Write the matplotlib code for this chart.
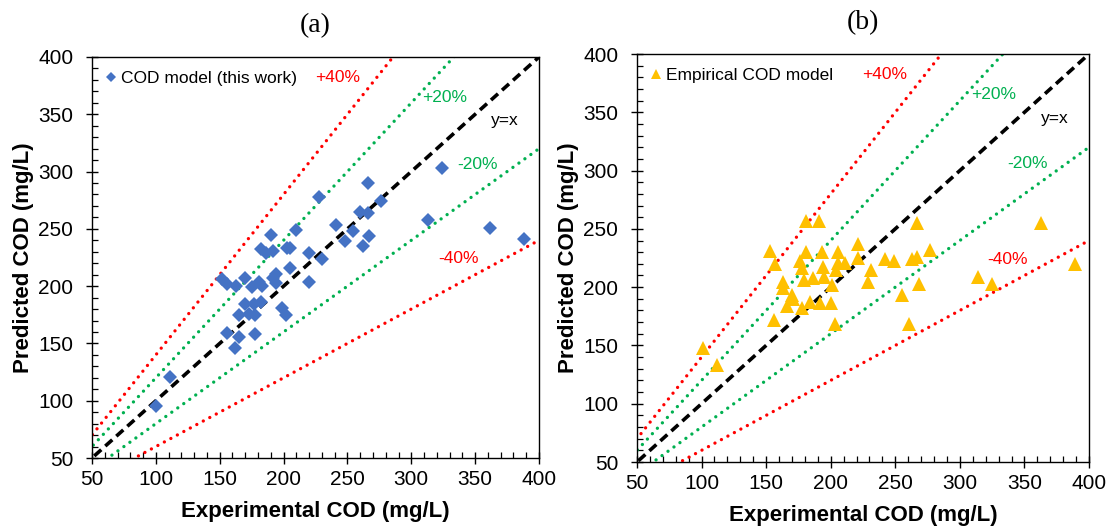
import matplotlib
matplotlib.use("Agg")
import numpy as np
import matplotlib.pyplot as plt
from matplotlib.ticker import MultipleLocator

plt.rcParams['font.family'] = ['Liberation Sans', 'DejaVu Sans']

# Experimental vs predicted COD (mg/L), model from this work
exp_a = [100, 111, 152, 156, 156, 162, 163, 165, 165, 170, 170, 173, 175, 177, 178,
         178, 181, 182, 183, 182, 186, 190, 192, 192, 194, 194, 199, 202, 203, 205,
         205, 210, 220, 220, 228, 230, 241, 248, 254, 260, 262, 266, 266, 267, 276,
         313, 324, 362, 388]
pred_a = [95, 121, 206, 202, 159, 146, 200, 175, 156, 207, 184, 176, 199, 184, 175,
          158, 204, 186, 200, 232, 229, 245, 231, 207, 203, 211, 181, 175, 233, 233,
          216, 249, 229, 204, 278, 224, 253, 239, 248, 265, 235, 264, 290, 244, 274,
          258, 303, 251, 241]

# Experimental vs predicted COD (mg/L), empirical model
exp_b = [101, 112, 153, 156, 157, 163, 163, 166, 170, 171, 176, 178, 178, 179, 181,
         181, 184, 186, 191, 192, 193, 194, 195, 200, 201, 203, 204, 206, 206, 211,
         221, 221, 229, 231, 242, 249, 255, 261, 263, 267, 267, 268, 277, 314, 325,
         363, 389]
pred_b = [148, 133, 231, 172, 220, 204, 199, 184, 193, 190, 222, 182, 216, 206, 257,
          230, 187, 208, 257, 186, 230, 217, 209, 186, 202, 168, 215, 230, 221, 221,
          237, 225, 204, 215, 224, 222, 193, 168, 224, 255, 226, 203, 232, 209, 203,
          255, 220]

# Error bands: ratio of predicted to experimental, label, colour, label position
band_ratios = [1.4, 1.2, 0.8, 0.6]
band_labels = ['+40%', '+20%', '-20%', '-40%']
band_colors = ['#FF0000', '#00B050', '#00B050', '#FF0000']
band_label_xy = [(242, 382), (326, 365), (352, 306), (337, 224)]
axis_min, axis_max = 50, 400

W, H = 1111, 530
fig = plt.figure(figsize=(W / 100, H / 100), dpi=100)


def px_axes(left, right, top, bottom):
    return fig.add_axes([left / W, 1 - bottom / H, (right - left) / W, (bottom - top) / H])


ax_a = px_axes(92, 539, 57, 458)
ax_b = px_axes(637, 1089, 54, 462)

panels = [
    (ax_a, exp_a, pred_a, 'D', '#4472C4', 7.5, 'COD model (this work)', '(a)'),
    (ax_b, exp_b, pred_b, '^', '#FFC000', 9.5, 'Empirical COD model', '(b)'),
]

xline = np.array([0, 800])
for ax, xs, ys, mk, col, ms, lab, title in panels:
    for r, c in zip(band_ratios, band_colors):
        ax.plot(xline, r * xline, color=c, lw=2.4, linestyle=(0, (0.01, 2.2)),
                dash_capstyle='round', zorder=2)
    ax.plot(xline, xline, color='black', lw=2.6, linestyle=(0, (2.6, 1.5)), zorder=2)

    ax.plot(xs, ys, linestyle='none', marker=mk, markersize=ms, color=col,
            markeredgewidth=0, label=lab, zorder=3)

    for (tx, ty), t, c in zip(band_label_xy, band_labels, band_colors):
        ax.text(tx, ty, t, color=c, fontsize=12.5, ha='center', va='center')
    ax.text(373.5, 344.5, 'y=x', color='black', fontsize=12.5, ha='center', va='center')

    ax.set_xlim(axis_min, axis_max)
    ax.set_ylim(axis_min, axis_max)
    ax.xaxis.set_major_locator(MultipleLocator(50))
    ax.yaxis.set_major_locator(MultipleLocator(50))
    ax.xaxis.set_minor_locator(MultipleLocator(10))
    ax.yaxis.set_minor_locator(MultipleLocator(10))
    ax.tick_params(which='major', direction='inout', length=9, width=1.0,
                   labelsize=15, colors='black')
    ax.tick_params(axis='x', which='major', pad=4)
    ax.tick_params(axis='y', which='major', pad=9)
    ax.tick_params(which='minor', direction='in', length=4, width=0.9)
    for s in ax.spines.values():
        s.set_linewidth(1.0)
        s.set_color('black')

    ax.set_xlabel('Experimental COD (mg/L)', fontsize=16, fontweight='bold', labelpad=9)
    ax.set_ylabel('Predicted COD (mg/L)', fontsize=16, fontweight='bold', labelpad=3)
    ax.set_title(title, fontsize=20, family=['Liberation Serif', 'DejaVu Serif'], pad=18)

    ax.legend(loc='upper left', frameon=False, fontsize=12.5, markerscale=0.7,
              handlelength=0.6, handletextpad=0.25, borderaxespad=0.6,
              borderpad=0.2)

fig.savefig('out.png', dpi=100)
